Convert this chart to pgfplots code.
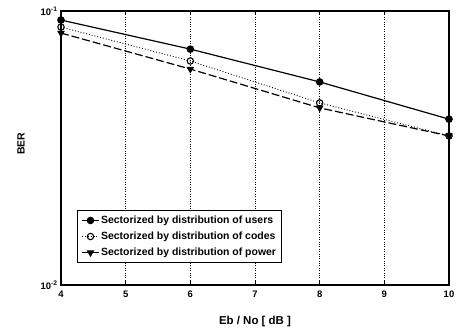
\documentclass[border=0pt]{standalone}
\usepackage{pgfplots}
\pgfplotsset{compat=1.18}
\usepackage{fontspec}
\setmainfont{Liberation Sans}
\usetikzlibrary{calc}
\begin{document}
\begin{tikzpicture}
\begin{axis}[name=ax,
  scale only axis, width=388bp, height=274bp,
  ymode=log, xmin=4, xmax=10, ymin=0.01, ymax=0.1,
  xtick={4,5,6,7,8,9,10},
  ytick={0.01,0.1},
  yticklabels={10\textsuperscript{-2},10\textsuperscript{-1}},
  minor ytick={},
  yminorticks=false,
  /pgf/number format/assume math mode=true,
  tick label style={font=\fontsize{9.5}{10}\selectfont\bfseries},
  xticklabel style={yshift=-2pt},
  xmajorgrids, major grid style={dotted, black, line width=0.6pt},
  axis line style={line width=1.1pt},
  tick style={black, line width=0.8pt},
  tick align=inside,
  xlabel={Eb / No [ dB ]}, ylabel={BER},
  xlabel style={font=\fontsize{11.5}{12}\selectfont\bfseries, at={(axis description cs:0.5,-0.135)}, anchor=center},
  ylabel style={font=\fontsize{10.5}{12}\selectfont\bfseries, at={(axis description cs:-0.103,0.515)}, anchor=center},
  legend style={at={(rel axis cs:0.041,0.08)}, anchor=south west,
    font=\fontsize{10.5}{12}\selectfont\bfseries, draw=black, line width=1pt,
    row sep=4pt, inner xsep=4pt, inner ysep=4pt,
    nodes={inner sep=1.5pt}},
  legend cell align=left,
]
\addplot[black, line width=1.2pt, mark=*, mark size=3.2pt] coordinates {(4,0.0927) (6,0.0726) (8,0.0551) (10,0.0403)};
\addlegendentry{Sectorized by distribution of users}
\addplot[black, line width=0.9pt, dotted, mark=o, mark size=3.2pt, mark options={solid, fill=white, line width=1.1pt}] coordinates {(4,0.0874) (6,0.0657) (8,0.0462) (10,0.0350)};
\addlegendentry{Sectorized by distribution of codes}
\addplot[black, line width=1.2pt, dashed, dash pattern=on 8pt off 3pt, mark=triangle*, mark size=3.3pt, mark options={solid, rotate=180}] coordinates {(4,0.0831) (6,0.0614) (8,0.0443) (10,0.0350)};
\addlegendentry{Sectorized by distribution of power}
\end{axis}
\pgfresetboundingbox
\path ($(ax.south west)+(-61bp,-49bp)$) rectangle ($(ax.north east)+(8bp,11bp)$);
\end{tikzpicture}
\end{document}
